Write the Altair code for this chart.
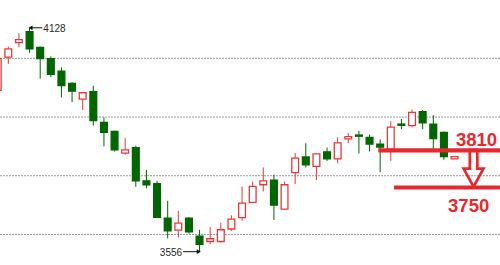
import altair as alt
import pandas as pd

# ---- candle data ----
opens = [3968, 4053, 4090, 4118, 4078, 4049, 4017, 3986, 3946, 3965, 3886, 3863, 3808, 3822,
         3737, 3730, 3642, 3611, 3642, 3596, 3582, 3582, 3614, 3643, 3682, 3727, 3739, 3665,
         3758, 3798, 3774, 3811, 3793, 3844, 3854, 3848, 3831, 3818, 3882, 3878, 3914, 3882,
         3861, 3793]
closes = [4049, 4074, 4098, 4074, 4049, 4009, 3980, 3966, 3962, 3891, 3861, 3816, 3816, 3737,
          3727, 3644, 3609, 3629, 3607, 3575, 3589, 3612, 3639, 3680, 3723, 3737, 3675, 3727,
          3795, 3778, 3806, 3793, 3834, 3850, 3851, 3831, 3823, 3874, 3879, 3912, 3885, 3845,
          3799, 3799]
highs = [4056, 4080, 4114, 4128, 4080, 4055, 4027, 3989, 3963, 3980, 3899, 3865, 3846, 3827,
         3765, 3737, 3686, 3660, 3644, 3612, 3619, 3630, 3649, 3723, 3735, 3771, 3753, 3735,
         3808, 3833, 3807, 3822, 3848, 3859, 3865, 3855, 3843, 3889, 3895, 3919, 3918, 3905,
         3863, 3799]
lows = [3962, 4036, 4078, 4064, 3998, 4002, 3950, 3938, 3918, 3878, 3825, 3812, 3804, 3722,
        3718, 3642, 3590, 3592, 3602, 3556, 3575, 3580, 3609, 3635, 3680, 3710, 3637, 3664,
        3729, 3771, 3739, 3788, 3782, 3833, 3807, 3812, 3759, 3788, 3869, 3874, 3869, 3818,
        3791, 3793]

grid_levels = [3600, 3750, 3900, 4050]

# extreme-point labels
ext_labels = ["4128", "3556"]
ext_prices = [4128, 3556]
ext_candle = [3, 19]

# hand-drawn levels
lvl_labels = ["3810", "3750"]

UP = "#e23b3b"
DOWN = "#006600"
ANN = "#e8282e"

df = pd.DataFrame({
    "i": list(range(len(opens))),
    "open": opens, "high": highs, "low": lows, "close": closes,
})
df["dir"] = ["up" if c >= o else "down" for o, c in zip(opens, closes)]

xs = alt.Scale(domain=[0.2165, 47.28], nice=False, zero=False)
ys = alt.Scale(domain=[3522, 4199], nice=False, zero=False)
col = alt.Scale(domain=["up", "down"], range=[UP, DOWN])
fil = alt.Scale(domain=["up", "down"], range=["#ffffff", DOWN])

grid = alt.Chart(pd.DataFrame({"lvl": grid_levels})).mark_rule(
    color="#9a9a9a", strokeDash=[2, 1], strokeWidth=1
).encode(y=alt.Y("lvl:Q", scale=ys, axis=None))

base = alt.Chart(df)
wick = base.mark_rule(strokeWidth=1, clip=True).encode(
    x=alt.X("i:Q", scale=xs, axis=None),
    y=alt.Y("low:Q", scale=ys, axis=None),
    y2="high:Q",
    color=alt.Color("dir:N", scale=col, legend=None),
)
body = base.transform_calculate(
    x0="datum.i - 0.32", x1="datum.i + 0.32"
).mark_rect(strokeWidth=1.3, clip=True).encode(
    x=alt.X("x0:Q", scale=xs, axis=None),
    x2="x1:Q",
    y=alt.Y("open:Q", scale=ys, axis=None),
    y2="close:Q",
    fill=alt.Fill("dir:N", scale=fil, legend=None),
    stroke=alt.Stroke("dir:N", scale=col, legend=None),
)

# extreme annotations (pointer lines + arrowheads + text)
ext = pd.DataFrame({"label": ext_labels, "price": ext_prices, "c": ext_candle})
ext["tip"] = [c + 0.09 if k == 0 else c - 0.07 for k, c in enumerate(ext_candle)]
ext["tail"] = [c + 1.2 if k == 0 else c - 1.55 for k, c in enumerate(ext_candle)]
ext["side"] = ["left", "right"]
eb = alt.Chart(ext)
ext_line = eb.mark_rule(color="#111", strokeWidth=1).encode(
    x=alt.X("tip:Q", scale=xs, axis=None), x2="tail:Q",
    y=alt.Y("price:Q", scale=ys, axis=None),
)
ext_head = eb.mark_point(filled=True, color="#111", size=22, opacity=1).encode(
    x=alt.X("tip:Q", scale=xs, axis=None),
    y=alt.Y("price:Q", scale=ys, axis=None),
    shape=alt.Shape("side:N", scale=alt.Scale(domain=["left", "right"],
                                              range=["triangle-left", "triangle-right"]),
                    legend=None),
)
ext_txt_l = eb.transform_filter("datum.side == 'left'").mark_text(
    align="left", baseline="middle", dx=1, dy=1, fontSize=10, font="Liberation Sans", color="#2a2a2a"
).encode(x=alt.X("tail:Q", scale=xs, axis=None), y=alt.Y("price:Q", scale=ys, axis=None), text="label:N")
ext_txt_r = eb.transform_filter("datum.side == 'right'").mark_text(
    align="right", baseline="middle", dx=-1, dy=1, fontSize=10, font="Liberation Sans", color="#2a2a2a"
).encode(x=alt.X("tail:Q", scale=xs, axis=None), y=alt.Y("price:Q", scale=ys, axis=None), text="label:N")

# hand-drawn level lines
lv = pd.DataFrame({
    "label": lvl_labels,
    "price": [3815, 3720],
    "start": [35.82, 37.30],
    "end": [47.4, 47.4],
    "tx": [45.07, 44.33],
    "ty": [3826, 3657],
})
lb = alt.Chart(lv)
lv_line = lb.mark_rule(color=ANN, strokeWidth=4.2).encode(
    x=alt.X("start:Q", scale=xs, axis=None), x2="end:Q",
    y=alt.Y("price:Q", scale=ys, axis=None),
)
lv_txt = lb.mark_text(
    align="center", baseline="alphabetic", fontSize=18.5, fontWeight="bold",
    font="Liberation Sans", color=ANN
).encode(x=alt.X("tx:Q", scale=xs, axis=None), y=alt.Y("ty:Q", scale=ys, axis=None), text="label:N")

arrow = alt.Chart(pd.DataFrame({"x": [44.79], "y": [3768]})).mark_point(
    shape="M -0.2 -1 L 0.2 -1 L 0.2 0 L 0.53 0 L 0 0.96 L -0.53 0 L -0.2 0 Z",
    size=1406, filled=False, stroke=ANN, strokeWidth=2.7, opacity=1, fill="#ffffff", fillOpacity=0
).encode(x=alt.X("x:Q", scale=xs, axis=None), y=alt.Y("y:Q", scale=ys, axis=None))

chart = alt.layer(
    grid, wick, body, ext_line, ext_head, ext_txt_l, ext_txt_r, lv_line, arrow, lv_txt
).properties(
    width=500, height=265, padding=0, autosize=alt.AutoSizeParams(type="none"),
    background="#ffffff",
).configure_view(stroke=None)

chart.save("out.html", embed_options={"renderer": "svg", "actions": False})
